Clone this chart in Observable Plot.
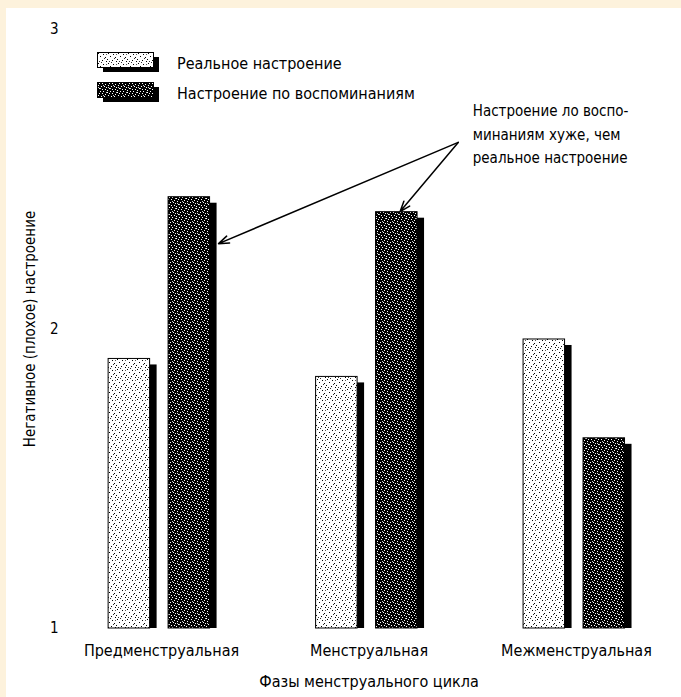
<!DOCTYPE html>
<html>
<head>
<meta charset="utf-8">
<script src="https://cdn.jsdelivr.net/npm/d3@7"></script>
<script src="https://cdn.jsdelivr.net/npm/@observablehq/plot@0.6"></script>
<style>
  html, body { margin: 0; padding: 0; background: #fdf2dc; }
  #frame { position: absolute; left: 6px; top: 8px; width: 675px; height: 689px; background: #fff; overflow: hidden; }
  #chart { position: absolute; left: 0; top: 0; }
  .lbl { font-family: "Liberation Sans Narrow", "DejaVu Sans Condensed", "Arial Narrow", sans-serif; }
  #legend { position: absolute; left: 91px; top: 40px; font-size: 16px; color: #000; }
  .row { display: flex; align-items: center; height: 30px; }
  .row svg { display: block; margin-right: 16px; }
</style>
</head>
<body>
<svg width="0" height="0" style="position:absolute">
  <defs>
    <pattern id="p-light" width="10" height="10" patternUnits="userSpaceOnUse">
      <rect width="10" height="10" fill="#fff"/>
      <rect x="1" y="1" width="1" height="1" fill="#000"/>
      <rect x="6" y="2" width="1" height="1" fill="#000"/>
      <rect x="3" y="4" width="1" height="1" fill="#000"/>
      <rect x="8" y="5" width="1" height="1" fill="#000"/>
      <rect x="0" y="7" width="1" height="1" fill="#000"/>
      <rect x="5" y="8" width="1" height="1" fill="#000"/>
      <rect x="9" y="9" width="1" height="1" fill="#000"/>
      <rect x="4" y="0" width="1" height="1" fill="#333"/>
      <rect x="7" y="6" width="1" height="1" fill="#333"/>
      <rect x="2" y="9" width="1" height="1" fill="#333"/>
      <rect x="9" y="2" width="1" height="1" fill="#555"/>
    </pattern>
    <pattern id="p-dark" width="10" height="10" patternUnits="userSpaceOnUse">
      <rect width="10" height="10" fill="#000"/>
      <rect x="0" y="0" width="1" height="1" fill="#fff"/>
      <rect x="2" y="1" width="1" height="1" fill="#fff"/>
      <rect x="5" y="1" width="1" height="1" fill="#fff"/>
      <rect x="8" y="2" width="1" height="1" fill="#fff"/>
      <rect x="1" y="3" width="1" height="1" fill="#fff"/>
      <rect x="4" y="4" width="1" height="1" fill="#fff"/>
      <rect x="7" y="4" width="1" height="1" fill="#fff"/>
      <rect x="9" y="5" width="1" height="1" fill="#fff"/>
      <rect x="2" y="6" width="1" height="1" fill="#fff"/>
      <rect x="5" y="7" width="1" height="1" fill="#fff"/>
      <rect x="8" y="7" width="1" height="1" fill="#fff"/>
      <rect x="0" y="8" width="1" height="1" fill="#fff"/>
      <rect x="3" y="9" width="1" height="1" fill="#fff"/>
      <rect x="6" y="9" width="1" height="1" fill="#fff"/>
      <rect x="6" y="3" width="1" height="1" fill="#ccc"/>
      <rect x="3" y="6" width="1" height="1" fill="#ccc"/>
      <rect x="9" y="0" width="1" height="1" fill="#ccc"/>
      <rect x="1" y="5" width="1" height="1" fill="#ccc"/>
    </pattern>
  </defs>
</svg>
<div id="frame">
  <div id="chart"></div>
  <div id="legend" class="lbl"></div>
</div>
<script>
// ---- data ----
const phases = ["Предменструальная", "Менструальная", "Межменструальная"];
const seriesNames = ["Реальное настроение", "Настроение по воспоминаниям"];
const realMood = [1.90, 1.84, 1.965];
const recalledMood = [2.44, 2.39, 1.635];
const yTicks = [1, 2, 3];
const yLabel = "Негативное (плохое) настроение";
const xLabel = "Фазы менструального цикла";
const noteLines = ["Настроение ло воспо-", "минаниям хуже, чем", "реальное настроение"];
const noteAt = [{x: 1.5, y: 2.765}];
const arrowStart = [{x: 1.43, y: 2.623}];
const arrowTargets = [{x: 0.275, y: 2.285}, {x: 1.15, y: 2.392}];

// ---- layout (not data) ----
const barOffset = [-0.255, 0.034];
const barW = 0.2;
const fills = ["url(#p-light)", "url(#p-dark)"];
const FONT = '"Liberation Sans Narrow", "DejaVu Sans Condensed", "Arial Narrow", sans-serif';

const bars = [];
phases.forEach((p, i) => {
  [realMood, recalledMood].forEach((vals, j) => {
    bars.push({phase: p, series: seriesNames[j], s: j, value: vals[i], x1: i + barOffset[j], x2: i + barOffset[j] + barW});
  });
});
const arrows = arrowTargets.map(t => ({x1: arrowStart[0].x, y1: arrowStart[0].y, x2: t.x, y2: t.y}));

const chart = Plot.plot({
  width: 675,
  height: 689,
  marginLeft: 60,
  marginRight: 10,
  marginTop: 21,
  marginBottom: 69,
  style: {fontFamily: FONT, fontSize: "16px", background: "transparent", color: "#000", overflow: "visible"},
  x: {domain: [-0.458, 2.458], axis: null},
  y: {domain: [1, 3], axis: null},
  marks: [
    Plot.axisY({ticks: yTicks, tickSize: 0, tickPadding: 8, tickFormat: d => String(d), fontSize: 15,
      label: yLabel, labelAnchor: "center", labelArrow: "none", labelOffset: 42}),
    Plot.axisX({ticks: [0, 1, 2], tickSize: 0, tickPadding: 16, tickFormat: i => phases[i], fontSize: 16,
      label: xLabel, labelAnchor: "center", labelArrow: "none", labelOffset: 58}),
    Plot.rect(bars, {x1: "x1", x2: "x2", y1: d => 1, y2: "value", fill: "#000", dx: 7, insetTop: 6}),
    Plot.rect(bars.filter(d => d.s === 0), {x1: "x1", x2: "x2", y1: d => 1, y2: "value", fill: fills[0], stroke: "#000", strokeWidth: 1}),
    Plot.rect(bars.filter(d => d.s === 1), {x1: "x1", x2: "x2", y1: d => 1, y2: "value", fill: fills[1], stroke: "#000", strokeWidth: 1}),
    Plot.arrow(arrows, {x1: "x1", y1: "y1", x2: "x2", y2: "y2", stroke: "#000", strokeWidth: 1.5, headLength: 11, headAngle: 40}),
    Plot.text(noteAt, {x: "x", y: "y", text: () => noteLines.join("\n"), textAnchor: "start", lineAnchor: "top", lineHeight: 1.55, fontSize: 15})
  ]
});
document.getElementById("chart").appendChild(chart);

// legend
const legend = document.getElementById("legend");
seriesNames.forEach((name, j) => {
  const row = document.createElement("div");
  row.className = "row";
  row.innerHTML = `<svg width="64" height="22"><rect x="6" y="5" width="56" height="15" fill="#000"/><rect x="0.5" y="0.5" width="56" height="15" fill="${fills[j]}" stroke="#000"/></svg><span>${name}</span>`;
  legend.appendChild(row);
});
</script>
</body>
</html>
